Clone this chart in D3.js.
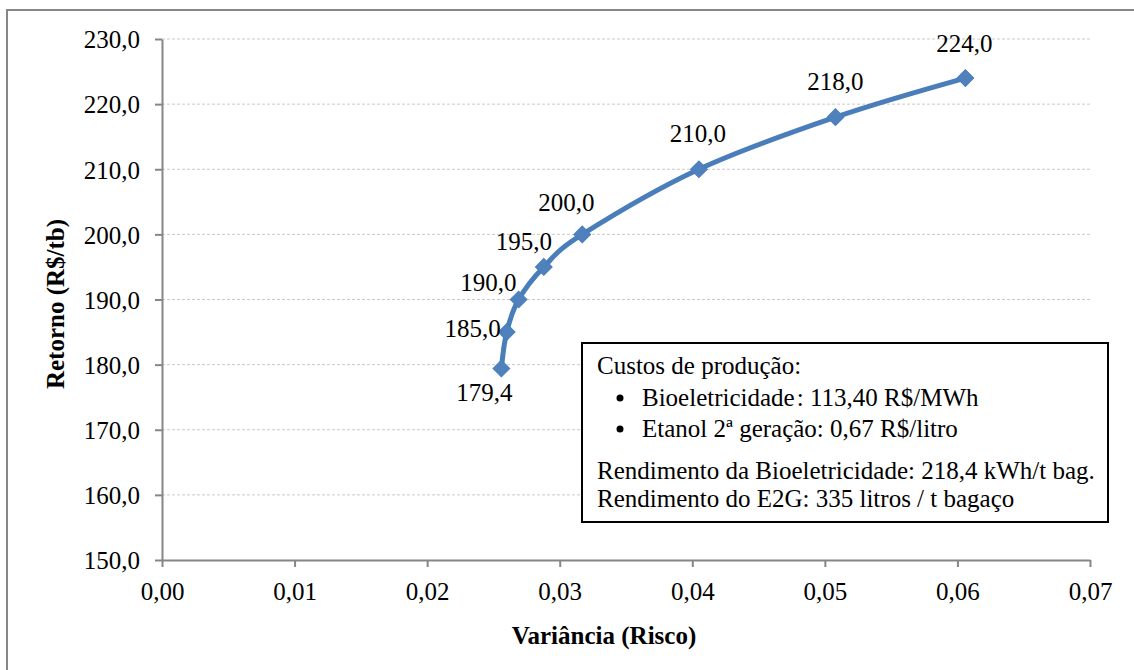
<!DOCTYPE html>
<html>
<head>
<meta charset="utf-8">
<script src="https://cdn.jsdelivr.net/npm/d3@7"></script>
<style>
  html, body { margin: 0; padding: 0; background: #fff; }
  svg { display: block; }
  text { font-family: "Liberation Serif", "Times New Roman", serif; fill: #000; }
</style>
</head>
<body>
<svg id="chart" width="1134" height="670"></svg>
<script>
// Efficient frontier: variance (risk) vs. return (R$/tb)
const variancia = [0.0256, 0.0260, 0.0269, 0.0288, 0.0317, 0.0405, 0.0508, 0.0606];
const retorno   = [179.4, 185.0, 190.0, 195.0, 200.0, 210.0, 218.0, 224.0];
const xTicks = [0, 0.01, 0.02, 0.03, 0.04, 0.05, 0.06, 0.07];
const yTicks = [150, 160, 170, 180, 190, 200, 210, 220, 230];
const xTitle = "Variância (Risco)";
const yTitle = "Retorno (R$/tb)";
const notaTitulo = "Custos de produção:";
const notaItens = ["Bioeletricidade\u200A: 113,40 R$/MWh", "Etanol 2ª geração: 0,67 R$/litro"];
const notaRodape = ["Rendimento da Bioeletricidade: 218,4 kWh/t bag.", "Rendimento do E2G: 335 litros / t bagaço"];

// Label placement around each marker (anchor, dx, dy)
const labelPlacement = [
  ["middle", -17, 32], ["end", -6, 5], ["end", -2, -9], ["middle", -20, -17],
  ["middle", -16, -23], ["middle", -1, -27], ["middle", 0, -27], ["middle", -1, -26]
];

const fmtX = v => d3.format(".2f")(v).replace(".", ",");
const fmtY = v => d3.format(".1f")(v).replace(".", ",");

const svg = d3.select("#chart");
const plotLeft = 162, plotRight = 1090, plotTop = 39, plotBottom = 560;

// outer frame
svg.append("rect").attr("x", 7).attr("y", 10).attr("width", 1140).attr("height", 680)
  .attr("fill", "none").attr("stroke", "#878787").attr("stroke-width", 2);

const x = d3.scaleLinear().domain([0, 0.07]).range([plotLeft, plotRight]);
const y = d3.scaleLinear().domain([150, 230]).range([plotBottom, plotTop]);

// horizontal gridlines
svg.append("g").selectAll("line").data(yTicks.filter(t => t > 150)).join("line")
  .attr("x1", plotLeft).attr("x2", plotRight)
  .attr("y1", d => y(d)).attr("y2", d => y(d))
  .attr("stroke", "#c9c9c9").attr("stroke-width", 1).attr("stroke-dasharray", "3,2");

// y axis
const yAxis = svg.append("g").attr("transform", `translate(${plotLeft},0)`)
  .call(d3.axisLeft(y).tickValues(yTicks).tickFormat(fmtY).tickSize(7).tickSizeOuter(0).tickPadding(15));
// x axis
const xAxis = svg.append("g").attr("transform", `translate(0,${plotBottom})`)
  .call(d3.axisBottom(x).tickValues(xTicks).tickFormat(fmtX).tickSize(7).tickSizeOuter(0).tickPadding(15));

[yAxis, xAxis].forEach(g => {
  g.select(".domain").attr("stroke", "#868686").attr("stroke-width", 2);
  g.selectAll(".tick line").attr("stroke", "#868686").attr("stroke-width", 2);
  g.selectAll(".tick text").attr("font-family", "Liberation Serif").attr("font-size", 25).attr("fill", "#000");
});
xAxis.selectAll(".tick text").attr("dy", null).attr("y", 40);
yAxis.selectAll(".tick text").attr("dy", "0.35em");

// axis titles
svg.append("text").attr("x", 604).attr("y", 644).attr("text-anchor", "middle")
  .attr("font-size", 25).attr("font-weight", "bold").text(xTitle);
svg.append("text").attr("transform", "translate(64,304) rotate(-90)").attr("text-anchor", "middle")
  .attr("font-size", 25).attr("font-weight", "bold").text(yTitle);

// smoothed series line
const pts = variancia.map((v, i) => [v, retorno[i]]);
const line = d3.line().x(d => x(d[0])).y(d => y(d[1])).curve(d3.curveCatmullRom.alpha(0));
svg.append("path").datum(pts).attr("d", line)
  .attr("fill", "none").attr("stroke", "#4a7ebb").attr("stroke-width", 5)
  .attr("stroke-linejoin", "round").attr("stroke-linecap", "round");

// diamond markers
const diamond = d3.symbol().type(d3.symbolSquare).size(140);
svg.append("g").selectAll("path").data(pts).join("path")
  .attr("d", diamond)
  .attr("transform", d => `translate(${x(d[0])},${y(d[1])}) rotate(45)`)
  .attr("fill", "#4f81bd").attr("stroke", "#4a7ebb").attr("stroke-width", 1);

// data labels
svg.append("g").selectAll("text").data(pts).join("text")
  .attr("x", (d, i) => x(d[0]) + labelPlacement[i][1])
  .attr("y", (d, i) => y(d[1]) + labelPlacement[i][2])
  .attr("text-anchor", (d, i) => labelPlacement[i][0])
  .attr("font-size", 25).text(d => fmtY(d[1]));

// note box
const note = svg.append("g");
note.append("rect").attr("x", 582).attr("y", 343).attr("width", 526).attr("height", 179)
  .attr("fill", "#fff").attr("stroke", "#000").attr("stroke-width", 2);
note.append("text").attr("x", 597).attr("y", 374).attr("font-size", 25).text(notaTitulo);
notaItens.forEach((t, i) => {
  note.append("circle").attr("cx", 620).attr("cy", 398 + i * 31).attr("r", 3.5).attr("fill", "#000");
  note.append("text").attr("x", 642).attr("y", 406 + i * 31).attr("font-size", 25).text(t);
});
notaRodape.forEach((t, i) => {
  note.append("text").attr("x", 597).attr("y", 479 + i * 28).attr("font-size", 25).text(t);
});
</script>
</body>
</html>
